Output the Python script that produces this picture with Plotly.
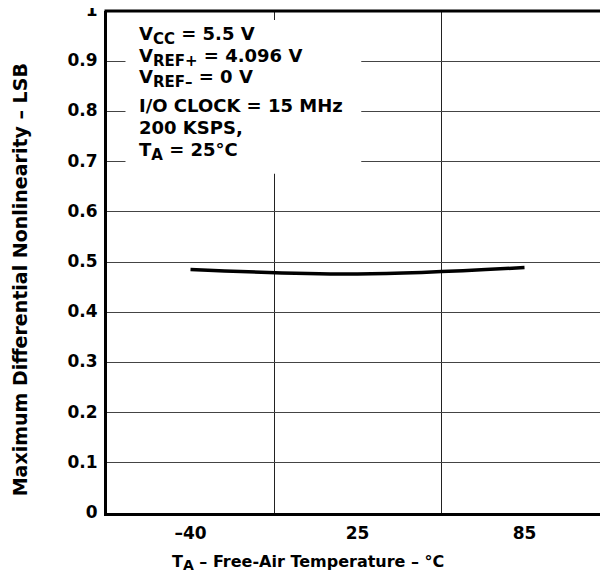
import plotly.graph_objects as go

temps = ["–40", "25", "85"]
dnl_max = [0.485, 0.476, 0.489]

y_ticks = [0, 0.1, 0.2, 0.3, 0.4, 0.5, 0.6, 0.7, 0.8, 0.9, 1]
y_ticktext = ["0", "0.1", "0.2", "0.3", "0.4", "0.5", "0.6", "0.7", "0.8", "0.9", "1"]

SUB = '<sub><span style="font-size:15px">{}</span></sub>'
cond_lines = [
    "V" + SUB.format("CC") + " = 5.5 V",
    "V" + SUB.format("REF+") + " = 4.096 V",
    "V" + SUB.format("REF–") + " = 0 V",
    "I/O CLOCK = 15 MHz",
    "200 KSPS,",
    "T" + SUB.format("A") + " = 25°C",
]
x_title = "T" + '<sub><span style="font-size:14px">A</span></sub>' + " – Free-Air Temperature – °C"
y_title = "Maximum Differential Nonlinearity – LSB"

FONT = "DejaVu Sans, Verdana, sans-serif"
OFF = 8  # page body margin
W, H = 608 - OFF, 579 - OFF
# plot area in page pixels
PL, PT, PB, PR = 106.5, 11, 513.5, 608
L, T, B, R = PL - OFF, PT - OFF, (579 - PB), 0
PW, PH = W - L - R, H - T - B

fig = go.Figure()
fig.add_trace(go.Scatter(
    x=temps, y=dnl_max, mode="lines",
    line=dict(color="black", width=3.5, shape="spline", smoothing=1.0),
    hoverinfo="skip", showlegend=False,
))

def px2paper_x(px):
    return (px - PL) / PW

def px2paper_y(py):
    return (PB - py) / PH

# white box behind conditions
fig.add_shape(type="rect", xref="paper", yref="paper",
              x0=px2paper_x(125), x1=px2paper_x(361),
              y0=px2paper_y(174), y1=px2paper_y(20),
              fillcolor="white", line=dict(width=0), layer="above")
# top frame line
fig.add_shape(type="line", xref="paper", yref="paper",
              x0=px2paper_x(104), x1=1, y0=1, y1=1,
              line=dict(color="black", width=3), layer="above")

baselines = [43, 65, 86, 113, 135, 159]
for txt, bl in zip(cond_lines, baselines):
    fig.add_annotation(
        xref="paper", yref="paper", x=px2paper_x(137), y=px2paper_y(bl - 7),
        text=txt, showarrow=False, xanchor="left", yanchor="middle",
        font=dict(family=FONT, size=18, color="black", weight="bold"),
    )

# axis titles
fig.add_annotation(
    xref="paper", yref="paper", x=px2paper_x(308), y=px2paper_y(563),
    text=x_title, showarrow=False, xanchor="center", yanchor="middle",
    font=dict(family=FONT, size=16, color="black", weight="bold"),
)
fig.add_annotation(
    xref="paper", yref="paper", x=px2paper_x(19), y=px2paper_y(280),
    text=y_title, showarrow=False, xanchor="center", yanchor="middle",
    textangle=-90,
    font=dict(family=FONT, size=19, color="black", weight="bold"),
)

fig.update_layout(
    width=W, height=H,
    margin=dict(l=L, r=R, t=T, b=B, pad=0),
    paper_bgcolor="white", plot_bgcolor="white",
    font=dict(family=FONT, color="black", weight="bold"),
    xaxis=dict(
        type="category", categoryorder="array", categoryarray=temps,
        range=[-0.5, 2.5], tickson="boundaries", automargin=False,
        showgrid=True, gridcolor="#222", gridwidth=1,
        showline=True, linecolor="black", linewidth=3, mirror=False,
        ticks="", ticklabelstandoff=3,
        tickfont=dict(family=FONT, size=17, color="black", weight="bold"),
        zeroline=False, fixedrange=True,
    ),
    yaxis=dict(
        range=[0, 1], tickmode="array", tickvals=y_ticks, ticktext=y_ticktext,
        automargin=False, ticklabeloverflow="allow",
        showgrid=True, gridcolor="#444", gridwidth=1,
        showline=True, linecolor="black", linewidth=3, mirror=False,
        ticks="", ticklabelstandoff=3, ticklabelshift=-1,
        tickfont=dict(family=FONT, size=17, color="black", weight="bold"),
        zeroline=False, fixedrange=True,
    ),
)

fig.write_html("out.html")
